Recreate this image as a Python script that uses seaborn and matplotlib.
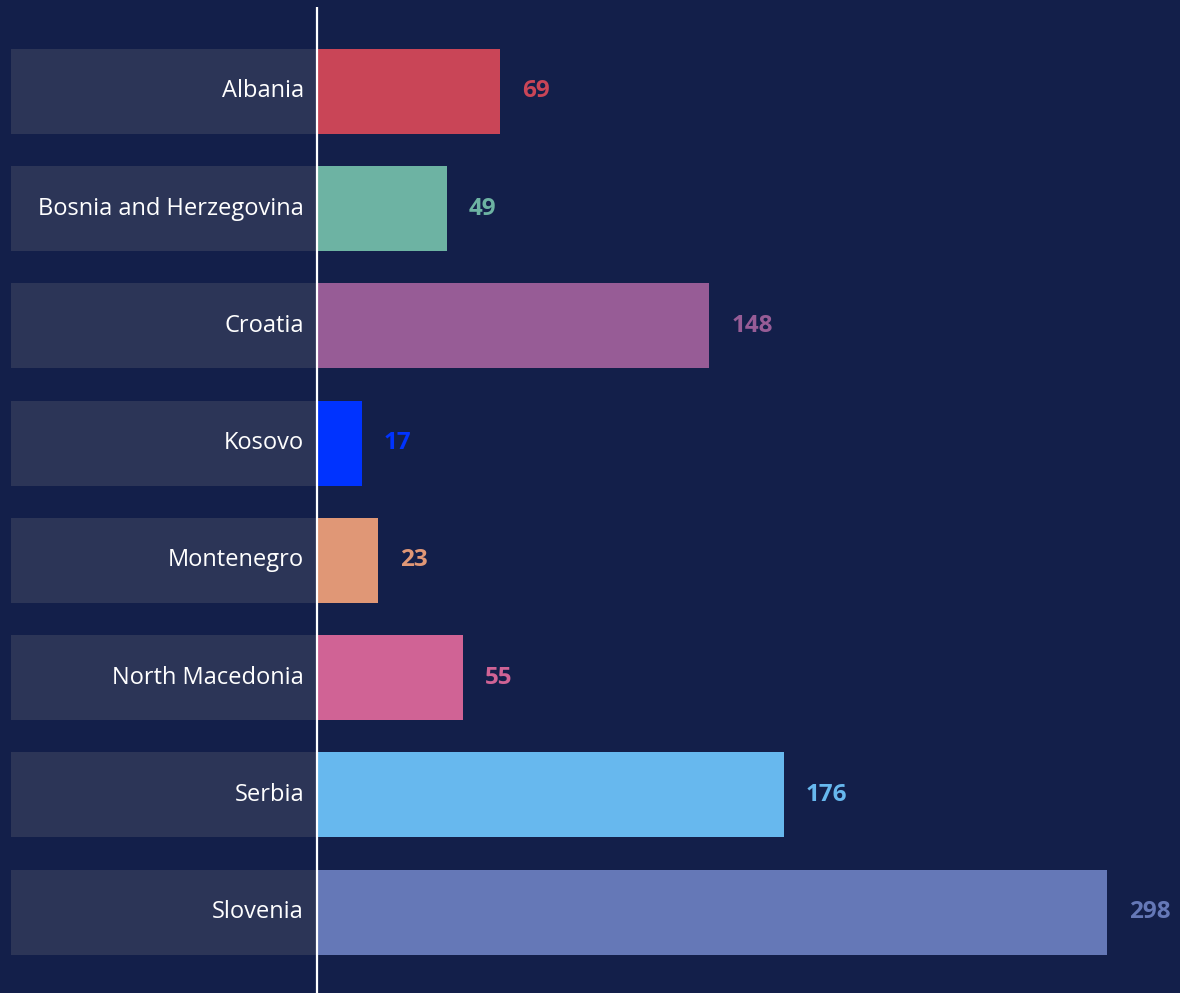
import matplotlib
matplotlib.use("Agg")
import matplotlib.pyplot as plt
import seaborn as sns
import pandas as pd

countries = ["Albania", "Bosnia and Herzegovina", "Croatia", "Kosovo",
             "Montenegro", "North Macedonia", "Serbia", "Slovenia"]
values = [69, 49, 148, 17, 23, 55, 176, 298]
colors = ["#c94557", "#6db3a3", "#975c96", "#0033ff",
          "#e09776", "#d06395", "#67b8ee", "#6578b7"]

bg = "#131f4a"
box = "#2c3557"

df = pd.DataFrame({"country": countries, "value": values})

sns.set_theme(style="white")
plt.rcParams["font.family"] = ["Open Sans", "DejaVu Sans"]

fig = plt.figure(figsize=(11.8, 9.93), dpi=100)
fig.patch.set_facecolor(bg)
ax = fig.add_axes([0, 0, 1, 1])
ax.set_facecolor(bg)

# pixel -> data mapping
px = 790 / 298.0
x0 = 317

# label boxes
box_left = -(x0 - 11) / px
ax.barh(range(len(countries)), [-box_left] * len(countries), left=box_left,
        height=0.725, color=box, linewidth=0, zorder=1)

sns.barplot(data=df, x="value", y="country", hue="country", palette=colors,
            orient="h", width=0.725, legend=False, ax=ax, saturation=1,
            linewidth=0, edgecolor="none", zorder=2)
ax.set_ylim(7.69, -0.78)
ax.set_xlim(-x0 / px, (1180 - x0) / px)

for i, (c, v, col) in enumerate(zip(countries, values, colors)):
    ax.text(-13 / px, i, c, ha="right", va="center", color="white", fontsize=17, zorder=3)
    ax.text(v + 22 / px, i, str(v), ha="left", va="center", color=col,
            fontsize=17.5, fontweight="bold", zorder=3)

ax.plot([0, 0], [7.69, -0.72], color="white", lw=1.6, zorder=4, solid_capstyle="butt")

ax.set_xlabel("")
ax.set_ylabel("")
ax.set_xticks([])
ax.set_yticks([])
for s in ax.spines.values():
    s.set_visible(False)

fig.savefig("out.png", dpi=100, facecolor=bg)
